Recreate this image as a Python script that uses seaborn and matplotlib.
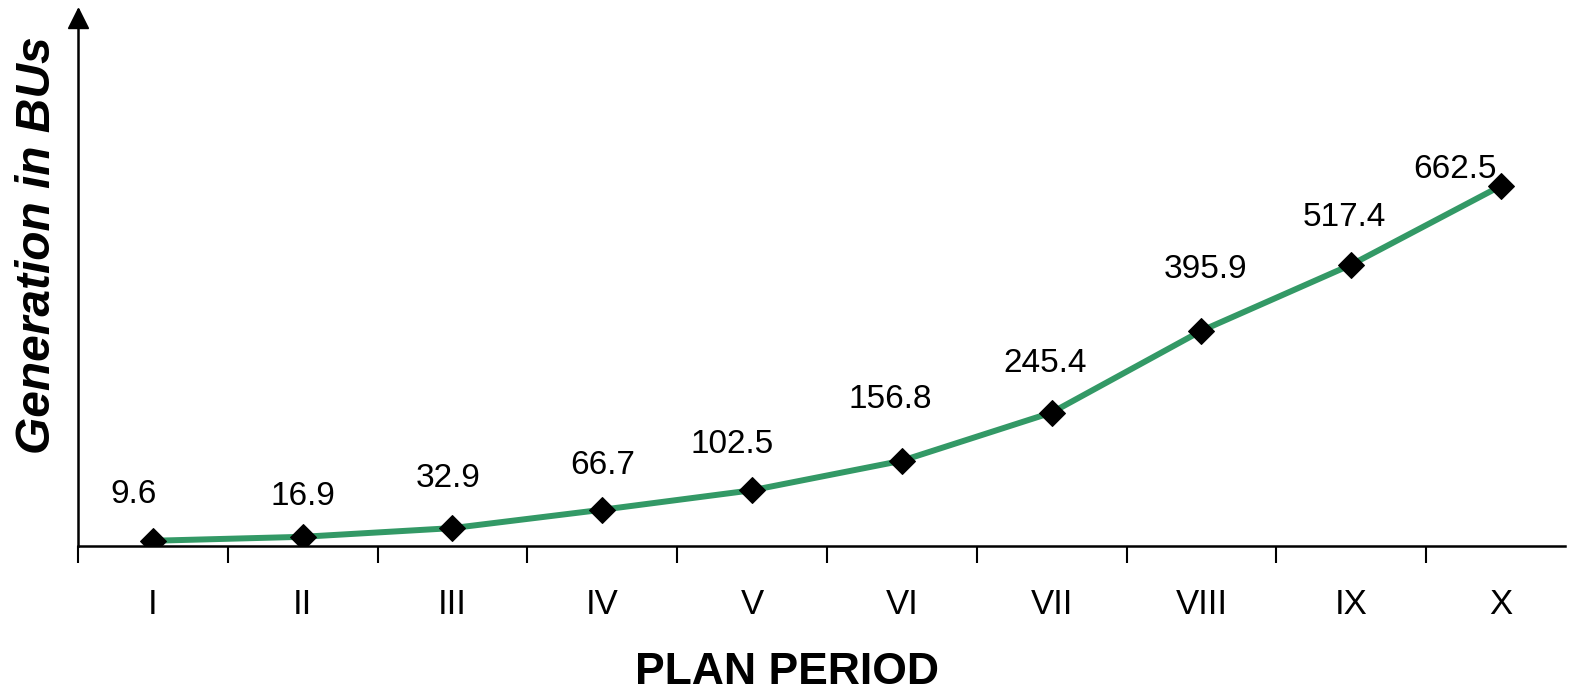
import numpy as np
import pandas as pd
import matplotlib
matplotlib.use("Agg")
import matplotlib.pyplot as plt
import seaborn as sns
from matplotlib.ticker import FixedLocator

# chart data
periods = ["I", "II", "III", "IV", "V", "VI", "VII", "VIII", "IX", "X"]
generation = [9.6, 16.9, 32.9, 66.7, 102.5, 156.8, 245.4, 395.9, 517.4, 662.5]

# label offsets in points (dx, dy)
label_dx = [-14, 0, -3, 0, -14, -8, -5, 3, -5, -33]
label_dy = [33, 29, 36, 32, 33, 44, 35, 44, 34, 12]

sns.set_theme(style="white")
plt.rcParams["font.family"] = ["Liberation Sans", "DejaVu Sans"]
plt.rcParams["text.color"] = "black"
plt.rcParams["axes.labelcolor"] = "black"
plt.rcParams["xtick.color"] = "black"
plt.rcParams["ytick.color"] = "black"

df = pd.DataFrame({"pos": np.arange(len(periods)), "gen": generation})

fig = plt.figure(figsize=(15.69, 6.92), dpi=100)
ax = fig.add_axes([0.0497, 0.211, 0.948, 0.7746])

sns.lineplot(data=df, x="pos", y="gen", ax=ax, color="#339966", linewidth=4.3,
             marker="D", markersize=13, markerfacecolor="black",
             markeredgecolor="black", zorder=3)

for x, y, dx, dy in zip(df["pos"], df["gen"], label_dx, label_dy):
    ax.annotate(f"{y:.1f}", (x, y), xytext=(dx, dy), textcoords="offset points",
                ha="center", va="center", fontsize=24, color="black")

ax.set_xlim(-0.5, 9.43)
ax.set_ylim(0, 986)

# category labels, tick marks between categories
ax.set_xticks(df["pos"])
ax.set_xticklabels(periods, fontsize=25)
ax.xaxis.set_minor_locator(FixedLocator(np.arange(-0.5, 9.5, 1)))
ax.tick_params(axis="x", which="major", length=0, pad=30)
ax.tick_params(axis="x", which="minor", direction="out", length=12, width=1.5,
               color="black", bottom=True)
ax.set_yticks([])

for side in ["top", "right"]:
    ax.spines[side].set_visible(False)
for side in ["left", "bottom"]:
    ax.spines[side].set_color("black")
    ax.spines[side].set_linewidth(1.8)

# arrow head on y axis
ax.plot([0], [1.0 - 8 / 536], marker="^", markersize=14, color="black",
        transform=ax.transAxes, clip_on=False)

ax.set_xlabel("PLAN PERIOD", fontsize=32, fontweight="bold")
ax.xaxis.set_label_coords(0.477, -0.198)
ax.xaxis.label.set_va("top")
ax.set_ylabel("Generation in BUs", fontsize=34.5, fontweight="bold", style="italic")
ax.yaxis.set_label_coords(-0.012, 0.5616)

fig.savefig("out.png", dpi=100)
